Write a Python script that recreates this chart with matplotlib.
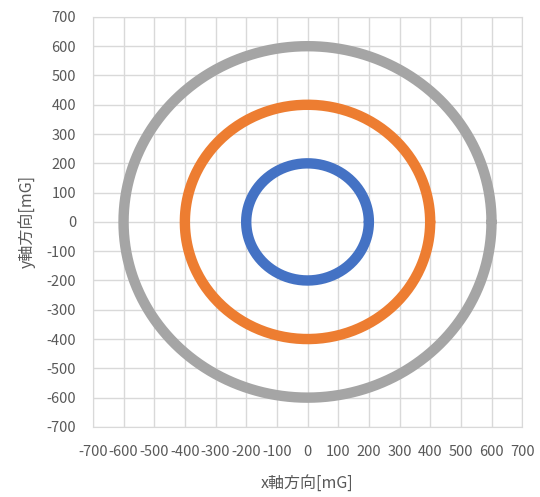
import numpy as np
import matplotlib
matplotlib.use("Agg")
import matplotlib.pyplot as plt

plt.rcParams['font.family'] = ['Noto Sans CJK JP', 'DejaVu Sans']
plt.rcParams['axes.unicode_minus'] = False

radii = [200, 400, 600]
colors = ['#4472C4', '#ED7D31', '#A5A5A5']
ticks = list(range(-700, 701, 100))
xlabel = 'x軸方向[mG]'
ylabel = 'y軸方向[mG]'

angles = np.linspace(0, 2 * np.pi, 361)

fig = plt.figure(figsize=(5.4, 4.97), dpi=100)
ax = fig.add_axes([0.172, 0.141, 0.795, 0.825])

for r, c in zip(radii, colors):
    ax.plot(r * np.cos(angles), r * np.sin(angles), color=c, lw=7.5,
            solid_capstyle='round', zorder=3)

ax.set_xlim(-700, 700)
ax.set_ylim(-700, 700)
ax.set_xticks(ticks)
ax.set_yticks(ticks)
ax.grid(True, color='#D9D9D9', lw=1.0)
ax.set_axisbelow(True)
for s in ax.spines.values():
    s.set_color('#D9D9D9')
ax.tick_params(length=0, labelsize=10.5, labelcolor='#595959')
ax.tick_params(axis='y', pad=12)
ax.tick_params(axis='x', pad=13)
ax.set_xlabel(xlabel, fontsize=11.5, color='#595959', labelpad=12)
ax.set_ylabel(ylabel, fontsize=11.5, color='#595959', labelpad=8)

fig.savefig('out.png', dpi=100)
